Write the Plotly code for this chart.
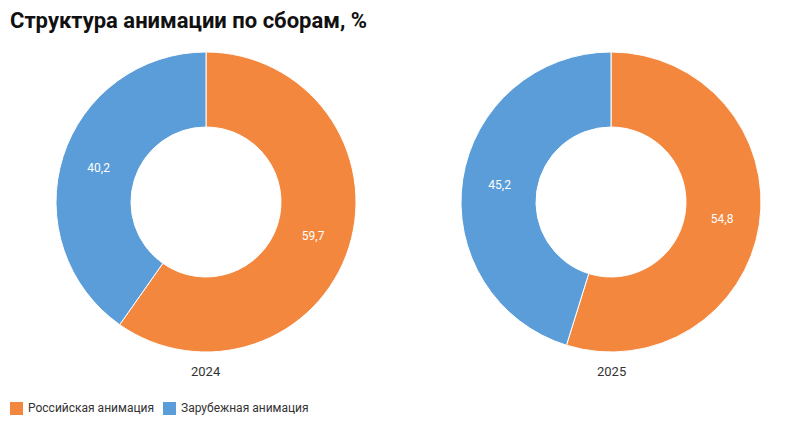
import plotly.graph_objects as go

categories = ["Российская анимация", "Зарубежная анимация"]
years = ["2024", "2025"]
values_2024 = [59.7, 40.2]
values_2025 = [54.8, 45.2]
colors = ["#F4873E", "#5B9DD9"]

W, H = 808, 429

def dom(cx, cy, r):
    return dict(x=[(cx - r) / W, (cx + r) / W], y=[1 - (cy + r) / H, 1 - (cy - r) / H])

fig = go.Figure()
for vals, cx, yr in [(values_2024, 206, years[0]), (values_2025, 611, years[1])]:
    fig.add_trace(go.Pie(
        labels=categories, values=vals, hole=0.5, sort=False, direction="clockwise",
        rotation=0, marker=dict(colors=colors, line=dict(color="white", width=1)),
        text=[f"{v:.1f}".replace(".", ",") for v in vals], textinfo="text",
        textposition="inside", insidetextorientation="horizontal",
        textfont=dict(color="white", size=12, family="Roboto"),
        domain=dom(cx, 202, 150), hoverinfo="label+value", name=yr,
        showlegend=False,
    ))
    fig.add_annotation(x=cx / W, y=1 - 371 / H, xref="paper", yref="paper", text=yr,
                       showarrow=False, xanchor="center", yanchor="middle",
                       font=dict(size=13, color="#333", family="Roboto"))

# custom legend
legend_x = [10, 163]
for cat, col, lx in zip(categories, colors, legend_x):
    fig.add_shape(type="rect", xref="paper", yref="paper",
                  x0=lx / W, x1=(lx + 13) / W, y0=1 - 415 / H, y1=1 - 402 / H,
                  fillcolor=col, line=dict(width=0))
    fig.add_annotation(x=(lx + 16) / W, y=1 - 408 / H, xref="paper", yref="paper",
                       text=cat, showarrow=False, xanchor="left", yanchor="middle",
                       font=dict(size=12, color="#333", family="Roboto"))

fig.update_layout(
    width=W, height=H, margin=dict(l=0, r=0, t=0, b=0),
    paper_bgcolor="white", plot_bgcolor="white",
    title=dict(text="<b>Структура анимации по сборам, %</b>", x=10 / W, xanchor="left",
               y=1 - 20 / H, yanchor="middle",
               font=dict(size=22, color="#111", family="Roboto")),
    showlegend=False,
    font=dict(family="Roboto"),
)
fig.write_html("out.html")
